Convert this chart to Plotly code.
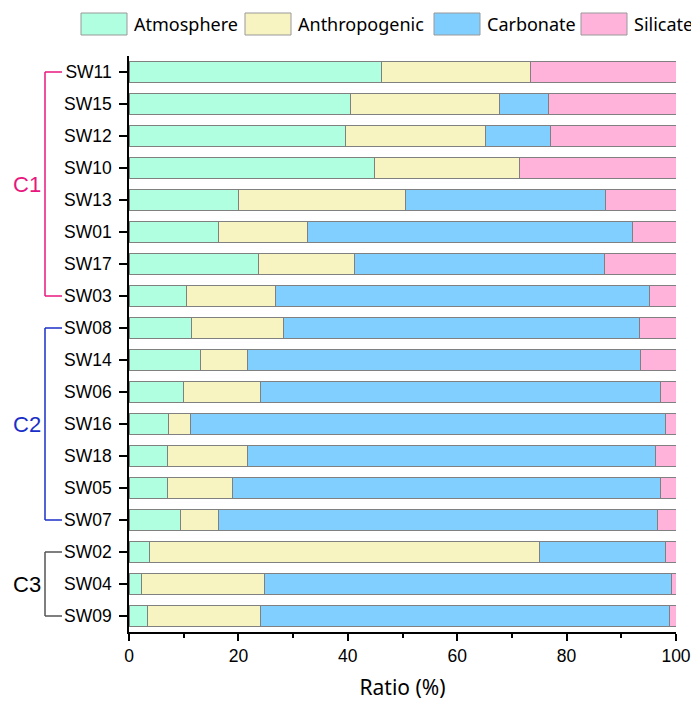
import plotly.graph_objects as go

samples = ["SW11", "SW15", "SW12", "SW10", "SW13", "SW01", "SW17", "SW03",
           "SW08", "SW14", "SW06", "SW16", "SW18", "SW05", "SW07",
           "SW02", "SW04", "SW09"]
atmosphere = [46.1, 40.5, 39.6, 44.9, 20.0, 16.4, 23.6, 10.6,
              11.5, 13.1, 10.0, 7.3, 7.1, 7.0, 9.5,
              3.7, 2.3, 3.3]
anthropogenic = [27.3, 27.3, 25.5, 26.5, 30.6, 16.2, 17.7, 16.2,
                 16.7, 8.5, 14.1, 3.9, 14.5, 12.0, 6.9,
                 71.3, 22.5, 20.8]
carbonate = [0.0, 8.9, 12.0, 0.0, 36.5, 59.5, 45.6, 68.3,
             65.1, 71.9, 73.0, 86.8, 74.7, 78.1, 80.2,
             23.1, 74.3, 74.8]
silicate = [26.6, 23.3, 22.9, 28.6, 12.9, 7.9, 13.1, 4.9,
            6.7, 6.5, 2.9, 2.0, 3.7, 2.9, 3.4,
            1.9, 0.9, 1.1]
series_names = ["Atmosphere", "Anthropogenic", "Carbonate", "Silicate"]
series_values = [atmosphere, anthropogenic, carbonate, silicate]
colors = ["#AFFFE0", "#F7F4C1", "#80CFFF", "#FFB3DA"]

groups = ["C1", "C2", "C3"]
group_first = ["SW11", "SW08", "SW02"]
group_last = ["SW03", "SW07", "SW09"]
group_colors = ["#E8177E", "#1A2FC8", "#555555"]
group_text_colors = ["#E8177E", "#1A2FC8", "#000000"]

W, H = 691, 702
L, R, T, B = 129, 15, 56, 70
PW, PH = W - L - R, H - T - B


def px_x(px):
    return (px - L) / PW


def px_y(py):
    return (H - B - py) / PH


fig = go.Figure()
for name, vals, col in zip(series_names, series_values, colors):
    fig.add_trace(go.Bar(
        y=samples, x=vals, name=name, orientation="h",
        marker=dict(color=col, line=dict(color="#808080", width=1)),
        width=0.66, showlegend=False,
    ))

# group brackets
for g, a, b, lc, tc in zip(groups, group_first, group_last, group_colors, group_text_colors):
    x0, x1 = px_x(45), px_x(62)
    path_kw = dict(type="line", xref="paper", yref="y", line=dict(color=lc, width=1.5))
    fig.add_shape(x0=x0, x1=x0, y0=a, y1=b, **path_kw)
    fig.add_shape(x0=x0, x1=x1, y0=a, y1=a, **path_kw)
    fig.add_shape(x0=x0, x1=x1, y0=b, y1=b, **path_kw)
    ia, ib = samples.index(a), samples.index(b)
    fig.add_annotation(x=px_x(43), y=(ia + ib) / 2, xref="paper", yref="y",
                       text=g, showarrow=False, xanchor="right", yanchor="middle",
                       font=dict(family="Arial, Liberation Sans", size=22, color=tc))

# manual legend
box_x = [81, 245, 434, 581]
for name, col, bx in zip(series_names, colors, box_x):
    fig.add_shape(type="rect", xref="paper", yref="paper",
                  x0=px_x(bx), x1=px_x(bx + 46), y0=px_y(35), y1=px_y(13),
                  fillcolor=col, line=dict(color="#999999", width=1))
    fig.add_annotation(x=px_x(bx + 51), y=px_y(24), xref="paper", yref="paper",
                       text=name, showarrow=False, xanchor="left", yanchor="middle",
                       font=dict(family="Noto Sans", size=18, color="#000000"))

fig.update_layout(
    barmode="stack",
    width=W, height=H,
    margin=dict(l=L, r=R, t=T, b=B, autoexpand=False),
    paper_bgcolor="white", plot_bgcolor="white",
    bargap=0.34,
    xaxis=dict(range=[0, 100], tickvals=[0, 20, 40, 60, 80, 100],
               ticks="outside", ticklen=7, tickwidth=1.5, tickcolor="black",
               minor=dict(tickvals=[10, 30, 50, 70, 90], ticks="outside", ticklen=4,
                          tickwidth=1.5, tickcolor="black"),
               showline=True, linecolor="black", linewidth=1.5,
               showgrid=False, zeroline=False,
               tickfont=dict(family="Arial, Liberation Sans", size=17.5, color="black"),
               title=dict(text="Ratio (%)", standoff=16,
                          font=dict(family="Noto Sans", size=21, color="black")),
               automargin=False),
    yaxis=dict(categoryorder="array", categoryarray=samples, autorange="reversed",
               ticks="outside", ticklen=8, tickwidth=1.5, tickcolor="black",
               showline=True, linecolor="black", linewidth=1.5,
               showgrid=False, zeroline=False, ticklabelstandoff=4,
               tickfont=dict(family="Arial, Liberation Sans", size=17.5, color="black"),
               automargin=False),
)
fig.write_html("out.html", config={"displayModeBar": False},
               post_script="document.body.style.margin='0';document.body.style.overflow='hidden';")
